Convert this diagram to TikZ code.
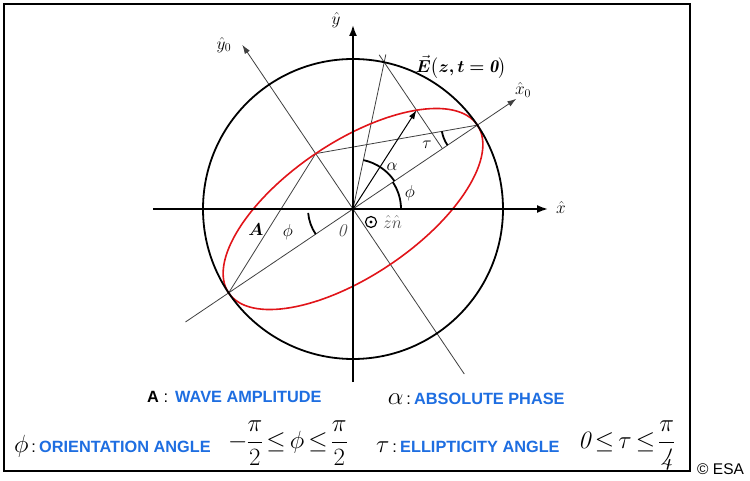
\documentclass[tikz,border=0pt]{standalone}
\usepackage{amsmath}
\usepackage{bm}
\usepackage{fontspec}
\newfontfamily\arialfont{Liberation Sans}
\usetikzlibrary{arrows.meta,calc}
\definecolor{lblue}{RGB}{30,110,225}
\definecolor{ered}{RGB}{225,20,25}
\begin{document}
\begin{tikzpicture}[x=1pt,y=1pt,
  axisline/.style={line width=1.8pt, -{Latex[length=11pt,width=8pt]}},
  rotaxis/.style={line width=0.8pt, draw=black!75, -{Latex[length=9pt,width=6pt]}},
  thinline/.style={line width=0.8pt, draw=black!75},
  earrow/.style={line width=1pt, -{Latex[length=9pt,width=6pt]}},
  anglearc/.style={line width=1.8pt},
  lbl/.style={font=\fontsize{18}{18}\selectfont, inner sep=0pt},
  graylbl/.style={lbl, text=black!70},
  legtext/.style={font=\arialfont\bfseries\fontsize{16.3}{18}\selectfont, text=lblue, inner sep=0pt, anchor=base west},
  legsym/.style={font=\arialfont\fontsize{16.3}{18}\selectfont, inner sep=0pt},
  ineq/.style={font=\fontsize{25}{30}\selectfont, inner sep=0pt, anchor=west},
]
\useasboundingbox (0,0) rectangle (750,480);
\fill[white] (0,0) rectangle (750,480);
\draw[line width=2pt] (4,9) rectangle (690,476);

\coordinate (O) at (353,271);
\begin{scope}[shift={(O)}]
  \coordinate (M1) at (34:150pt);
  \coordinate (M2) at (214:150pt);
  \coordinate (N) at (124:66.8pt);
  \coordinate (Pe) at (78:158pt);
  \coordinate (Pp) at (26.16,154.18);
  \coordinate (Q) at (63.5,98.8);
  \coordinate (F) at (34:107.9pt);
  \coordinate (xs) at (-200,0);
  \coordinate (xe) at (195,0);
  \coordinate (ys) at (0,-173);
  \coordinate (ye) at (0,184);
  \coordinate (x0s) at (214:202pt);
  \coordinate (x0e) at (34:197pt);
  \coordinate (y0s) at (304:199pt);
  \coordinate (y0e) at (124:198pt);

  % construction lines
  \draw[thinline] (M2) -- (N) -- (M1);
  \draw[thinline] (O) -- (Pe);
  \draw[thinline] (Pp) -- (F);
  \draw[rotaxis] (x0s) -- (x0e);
  \draw[rotaxis] (y0s) -- (y0e);

  % ellipse and circle
  \draw[ered, line width=1.6pt, rotate=34] (0,0) ellipse [x radius=150pt, y radius=66.8pt];
  \draw[line width=1.8pt] (0,0) circle [radius=150pt];

  % main axes
  \draw[axisline] (xs) -- (xe);
  \draw[axisline] (ys) -- (ye);

  % field vector
  \draw[earrow] (O) -- (Q);

  % angle arcs
  \draw[anglearc] (0:48pt) arc[start angle=0, end angle=34, radius=48pt];
  \draw[anglearc] (34:50pt) arc[start angle=34, end angle=78, radius=50pt];
  \draw[anglearc] (185:45pt) arc[start angle=185, end angle=214, radius=45pt];
  \draw[anglearc] ($(M1)+(190:36pt)$) arc[start angle=190, end angle=214, radius=36pt];

  % labels
  \node[lbl] (lalpha) at (39,42) {$\alpha$};
  \node[lbl] (lphiu) at (57,16) {$\phi$};
  \node[lbl] (ltau) at (74,64) {$\tau$};
  \node[lbl] (lphil) at (-65,-23) {$\phi$};
  \node[lbl] (lA) at (-97,-21) {$\bm{A}$};
  \node[graylbl] (lzero) at (-11,-22) {$\mathit{0}$};
  \node[draw, circle, line width=1.2pt, minimum size=11pt, inner sep=0pt] (dotc) at (18,-13) {};
  \fill (dotc.center) circle [radius=1.7pt];
  \node[graylbl, anchor=west] (lzn) at (30,-13) {$\hat{z}\hat{n}$};
  \node[lbl] (ly) at (-17,189) {$\hat{y}$};
  \node[lbl] (ly0) at (-129,164) {$\hat{y}_{0}$};
  \node[lbl] (lx0) at (170,119) {$\hat{x}_{0}$};
  \node[lbl] (lx) at (208,1) {$\hat{x}$};
  \node[lbl, font=\fontsize{18}{18}\selectfont] (lE) at (108,142) {$\vec{\bm{E}}\bigl(\bm{z,t=\mathit{0}}\bigr)$};
\end{scope}

% legend
\node[legsym, anchor=base west] (legA) at (147,78) {\bfseries A\mdseries{} :};
\node[legtext] (legAt) at (175,78) {WAVE AMPLITUDE};
\node[legsym, anchor=base east] (legal) at (411,76) {{\fontsize{24}{24}\selectfont$\alpha$}\,:};
\node[legtext] (legalt) at (414,76) {ABSOLUTE PHASE};

\node[legsym, anchor=base east] (legphi) at (36,27.5) {{\fontsize{26}{26}\selectfont$\phi$}\,:};
\node[legtext] (legphit) at (39,27.5) {ORIENTATION ANGLE};
\node[ineq] (ineqphi) at (228,37) {$\thickmuskip=3mu\nulldelimiterspace=0pt -\dfrac{\pi}{2}\le\phi\le\dfrac{\pi}{2}$};

\node[legsym, anchor=base east] (legtau) at (397,27.5) {{\fontsize{24}{24}\selectfont$\tau$}\,:};
\node[legtext] (legtaut) at (400,27.5) {ELLIPTICITY ANGLE};
\node[ineq] (ineqtau) at (578,34) {$\thickmuskip=3mu\nulldelimiterspace=0pt \mathit{0}\le\tau\le\dfrac{\pi}{\mathit{4}}$};

\node[legsym, font=\arialfont\fontsize{15.5}{18}\selectfont, anchor=base west] (esa) at (697,6) {© ESA};
\end{tikzpicture}
\end{document}
